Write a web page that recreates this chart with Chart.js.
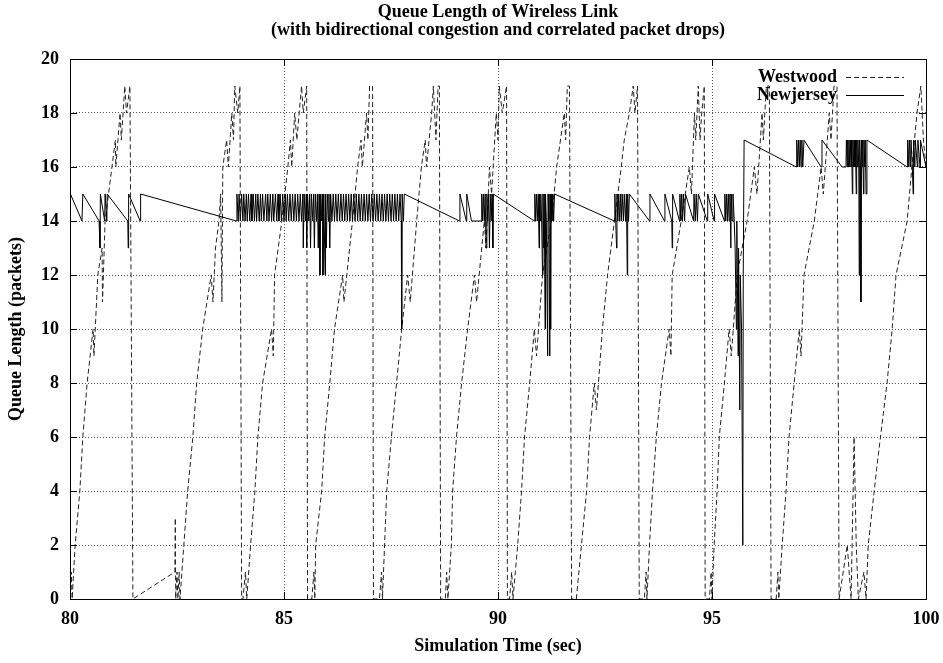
<!DOCTYPE html>
<html>
<head>
<meta charset="utf-8">
<script src="https://cdn.jsdelivr.net/npm/chart.js@4.4.0/dist/chart.umd.min.js"></script>
<style>
  body { margin: 0; background: #fff; }
  canvas { display: block; }
</style>
</head>
<body>
<canvas id="queue-chart" width="943" height="663"></canvas>
<script>

var titleLines = ['Queue Length of Wireless Link', '(with bidirectional congestion and correlated packet drops)'];
var xTitle = 'Simulation Time (sec)';
var yTitle = 'Queue Length (packets)';
var seriesNames = ['Westwood', 'Newjersey'];

// [time, queue length]
var westwood = [
  [80.00,0],[80.03,1],[80.05,0],[80.12,2],[80.23,4],[80.30,6],[80.40,8],[80.54,10],[80.56,9],[80.65,12],[80.75,13],[80.76,11],
  [80.82,14],[80.98,16],[81.06,17],[81.07,16],[81.17,18],[81.20,17],[81.28,19],[81.32,18],[81.40,19],[81.47,0],
  [82.45,1],[82.46,3],[82.47,0],[82.50,1],[82.52,0],[82.55,1],[82.57,0],
  [82.66,2],[82.75,4],[82.87,6],[82.96,8],[83.10,10],[83.30,12],[83.34,11],[83.40,13],[83.48,14],[83.52,15],[83.55,11],
  [83.57,16],[83.66,17],[83.70,16],[83.78,18],[83.82,17],[83.85,19],[83.92,18],[83.97,19],[84.01,0],
  [84.04,0],[84.10,1],[84.13,0],[84.22,2],[84.32,4],[84.39,6],[84.50,8],[84.71,10],[84.75,9],[84.78,12],[84.95,14],
  [85.09,16],[85.15,17],[85.18,16],[85.25,18],[85.30,17],[85.41,19],[85.45,18],[85.53,19],[85.55,0],
  [85.65,0],[85.70,1],[85.72,0],[85.74,2],[85.88,4],[85.95,6],[86.07,8],[86.18,10],[86.37,12],[86.40,11],[86.60,14],
  [86.72,16],[86.80,17],[86.83,16],[86.93,18],[86.96,17],[87.00,19],[87.07,19],[87.09,0],
  [87.23,0],[87.28,1],[87.30,0],[87.35,2],[87.40,4],[87.51,6],[87.63,8],[87.75,10],[87.89,12],[87.95,11],[88.10,14],
  [88.21,16],[88.30,17],[88.33,16],[88.45,18],[88.49,19],[88.55,17],[88.60,19],[88.63,19],[88.66,0],
  [88.77,0],[88.80,1],[88.83,0],[88.91,2],[88.94,4],[89.03,6],[89.15,8],[89.29,10],[89.45,12],[89.50,11],[89.68,14],
  [89.72,13],[89.80,16],[89.85,15],[89.96,18],[90.00,17],[90.03,19],[90.10,18],[90.20,19],[90.22,0],
  [90.27,0],[90.32,1],[90.35,0],[90.46,2],[90.55,4],[90.62,6],[90.74,8],[90.85,10],[90.90,9],[91.04,12],[91.25,14],
  [91.37,16],[91.55,18],[91.58,17],[91.62,19],[91.67,19],[91.72,0],
  [91.83,0],[91.95,2],[92.07,4],[92.14,6],[92.25,8],[92.30,7],[92.44,10],[92.56,12],[92.72,14],[92.88,16],[92.95,17],
  [93.07,18],[93.16,19],[93.20,18],[93.26,19],[93.30,0],
  [93.42,0],[93.46,1],[93.48,0],[93.54,2],[93.61,4],[93.70,6],[93.82,8],[94.00,10],[94.04,9],[94.07,12],[94.28,14],
  [94.47,16],[94.52,15],[94.59,18],[94.62,17],[94.65,18],[94.68,19],[94.72,17],[94.76,18],[94.82,19],[94.84,0],
  [94.94,0],[94.98,1],[95.00,0],[95.05,2],[95.12,4],[95.17,6],[95.29,8],[95.40,10],[95.45,9],[95.59,12],[95.82,14],
  [95.99,16],[96.05,15],[96.17,18],[96.20,17],[96.27,19],[96.34,19],[96.38,0],
  [96.50,0],[96.54,1],[96.56,0],[96.64,2],[96.73,4],[96.80,6],[96.92,8],[97.04,10],[97.08,9],[97.15,12],[97.39,14],
  [97.55,16],[97.60,15],[97.74,18],[97.78,17],[97.85,19],[97.92,19],[97.97,0],
  [98.16,2],[98.25,0],[98.32,6],[98.37,2],[98.42,0],[98.55,1],[98.60,0],
  [98.65,2],[98.86,5],[99.09,8],[99.21,10],[99.30,12],[99.56,14],[99.67,16],[99.79,18],[99.88,19],[99.94,17],[100.00,16]
];

var newjersey = [
  [80.00,14],[80.01,15],[80.28,14],[80.30,15],[80.68,14],[80.70,13],[80.71,15],[80.81,14],[80.82,15],[80.86,14],[80.87,15],
  [81.35,14],[81.36,13],[81.37,15],[81.64,14],[81.65,15],
  [83.89,14],[83.90,15],[83.93,14],[83.95,15],[83.98,14],[84.01,15],[84.04,14],[84.06,15],[84.09,14],[84.12,15],[84.14,14],
  [84.17,15],[84.20,14],[84.23,15],[84.25,14],[84.28,15],[84.31,14],[84.34,15],[84.36,14],[84.39,15],[84.42,14],[84.45,15],
  [84.47,14],[84.50,15],[84.53,14],[84.57,15],[84.60,14],[84.62,15],[84.65,14],[84.68,15],[84.71,14],[84.74,15],[84.76,14],
  [84.80,15],[84.83,14],[84.86,15],[84.88,14],[84.91,15],[84.94,14],[84.97,15],[85.00,14],[85.03,15],[85.05,14],[85.08,15],
  [85.11,14],[85.14,15],[85.17,14],[85.20,15],[85.23,14],[85.26,15],[85.29,14],[85.32,15],[85.35,14],[85.38,15],[85.41,14],
  [85.44,15],[85.45,13],[85.47,15],[85.50,14],[85.52,15],[85.53,13],[85.55,15],[85.58,14],[85.60,15],[85.62,13],[85.64,15],
  [85.67,14],[85.69,15],[85.71,13],[85.73,15],[85.76,14],[85.78,15],[85.80,13],[85.82,15],[85.84,12],[85.86,15],[85.88,14],
  [85.90,15],[85.91,12],[85.93,15],[85.96,12],[85.97,15],[85.99,13],[86.01,15],[86.04,14],[86.05,15],[86.07,13],[86.09,15],
  [86.12,14],[86.15,15],[86.18,14],[86.21,15],[86.24,14],[86.27,15],[86.30,14],[86.33,15],[86.36,14],[86.39,15],[86.42,14],
  [86.45,15],[86.48,14],[86.51,15],[86.54,14],[86.57,15],[86.60,14],[86.63,15],[86.66,14],[86.69,15],[86.72,14],[86.75,15],
  [86.78,14],[86.81,15],[86.84,14],[86.87,15],[86.90,14],[86.93,15],[86.96,14],[86.99,15],[87.02,14],[87.05,15],[87.08,14],
  [87.11,15],[87.14,14],[87.17,15],[87.20,14],[87.23,15],[87.26,14],[87.29,15],[87.32,14],[87.35,15],[87.38,14],[87.41,15],
  [87.44,14],[87.47,15],[87.50,14],[87.53,15],[87.56,14],[87.59,15],[87.62,14],[87.65,15],[87.68,14],[87.71,15],[87.74,14],
  [87.75,10],[87.76,15],[87.79,14],[87.81,15],
  [89.10,14],[89.11,15],[89.26,14],[89.27,15],[89.38,14],[89.61,14],
  [89.62,15],[89.64,14],[89.66,15],[89.68,14],[89.70,15],[89.72,13],[89.74,15],[89.76,14],[89.78,15],[89.80,13],[89.82,15],
  [89.84,14],[89.86,15],[89.88,13],[89.89,15],
  [90.85,14],[90.86,15],[90.88,14],[90.90,15],[90.92,14],[90.94,15],[90.96,13],[90.97,15],[90.99,14],[91.00,15],[91.02,14],
  [91.04,12],[91.05,15],[91.07,13],[91.08,15],[91.10,10],[91.11,15],[91.13,14],[91.16,9],[91.17,15],[91.19,14],[91.21,9],
  [91.22,15],[91.23,10],[91.24,15],[91.26,14],[91.28,15],[91.30,14],[91.32,15],
  [92.72,14],[92.73,15],[92.77,13],[92.78,15],[92.80,14],[92.82,15],[92.84,14],[92.86,15],[92.88,14],[92.90,15],[92.93,14],
  [92.95,15],[92.98,14],[93.00,15],[93.02,12],[93.03,15],[93.05,14],[93.07,15],
  [93.54,14],[93.55,15],[93.89,14],[93.90,15],[94.06,14],[94.07,13],[94.08,15],[94.24,14],[94.25,15],[94.27,14],[94.29,15],
  [94.31,14],[94.33,15],[94.36,14],[94.38,15],[94.57,14],[94.58,15],[94.61,14],[94.63,15],[94.66,14],[94.68,15],[94.89,14],
  [94.90,15],[95.05,14],[95.06,15],[95.29,14],[95.30,15],[95.32,14],[95.34,15],[95.36,14],[95.38,15],[95.40,14],[95.42,15],
  [95.44,13],[95.45,15],[95.47,14],[95.49,15],[95.52,14],[95.54,13],[95.57,10],[95.58,14],[95.61,9],[95.62,13],[95.65,7],
  [95.66,12],[95.69,10],[95.72,2],[95.73,12],[95.75,17],
  [96.97,16],[96.98,17],[97.00,16],[97.02,17],[97.04,16],[97.06,17],[97.08,16],[97.10,17],[97.12,16],[97.15,17],
  [97.55,16],[97.57,17],[98.04,16],[98.13,16],
  [98.14,17],[98.16,16],[98.17,17],[98.19,16],[98.20,17],[98.22,16],[98.23,17],[98.25,16],[98.26,17],[98.28,15],[98.29,17],
  [98.31,16],[98.32,17],[98.34,16],[98.35,17],[98.37,15],[98.38,17],[98.40,16],[98.41,17],[98.43,16],[98.44,12],[98.45,17],
  [98.47,16],[98.48,11],[98.49,17],[98.51,16],[98.52,17],[98.54,15],[98.55,17],[98.57,16],[98.58,17],[98.60,15],[98.62,17],
  [99.56,16],[99.57,17],[99.60,16],[99.61,17],[99.64,16],[99.65,17],[99.68,16],[99.70,15],[99.71,17],[99.74,16],[99.75,17],
  [99.80,16],[99.81,17],[99.86,16],[99.87,17],[100.00,16]
];

var serif = '"Liberation Serif", "Times New Roman", serif';

// gnuplot style frame, inward ticks, title and key
const gnuplotDecor = {
  id: 'gnuplotDecor',
  afterDraw(chart) {
    const ctx = chart.ctx;
    const a = chart.chartArea;
    const xs = chart.scales.x, ys = chart.scales.y;
    ctx.save();
    ctx.setLineDash([]);
    ctx.strokeStyle = '#000';
    ctx.lineWidth = 1;
    ctx.strokeRect(a.left + 0.5, a.top + 0.5, a.right - a.left, a.bottom - a.top);
    ctx.beginPath();
    xs.ticks.forEach(t => {
      const px = Math.round(xs.getPixelForValue(t.value)) + 0.5;
      ctx.moveTo(px, a.bottom); ctx.lineTo(px, a.bottom - 7);
      ctx.moveTo(px, a.top); ctx.lineTo(px, a.top + 7);
    });
    ys.ticks.forEach(t => {
      const py = Math.round(ys.getPixelForValue(t.value)) + 0.5;
      ctx.moveTo(a.left, py); ctx.lineTo(a.left + 7, py);
      ctx.moveTo(a.right, py); ctx.lineTo(a.right - 7, py);
    });
    ctx.stroke();

    ctx.fillStyle = '#000';
    ctx.font = 'bold 18px ' + serif;
    ctx.textAlign = 'center';
    ctx.textBaseline = 'middle';
    const cx = (a.left + a.right) / 2;
    ctx.fillText(titleLines[0], cx, 12);
    ctx.fillText(titleLines[1], cx, 30);

    // key
    ctx.textAlign = 'right';
    chart.data.datasets.forEach((ds, i) => {
      const ky = 77 + i * 18;
      ctx.fillText(ds.label, 837, ky);
      ctx.beginPath();
      ctx.strokeStyle = ds.borderColor;
      ctx.lineWidth = ds.borderWidth;
      ctx.setLineDash(ds.borderDash || []);
      ctx.moveTo(846, ky + 0.5);
      ctx.lineTo(904, ky + 0.5);
      ctx.stroke();
    });
    ctx.restore();
  }
};

new Chart(document.getElementById('queue-chart'), {
  type: 'scatter',
  data: {
    datasets: [{
      label: seriesNames[0],
      data: westwood,
      showLine: true,
      borderColor: '#222',
      borderWidth: 1,
      borderDash: [5, 3],
      pointRadius: 0,
      order: 1
    }, {
      label: seriesNames[1],
      data: newjersey,
      showLine: true,
      borderColor: '#000',
      borderWidth: 1,
      pointRadius: 0,
      order: 0
    }]
  },
  options: {
    responsive: false,
    animation: false,
    devicePixelRatio: 1,
    layout: { padding: { top: 59, right: 17, bottom: 0, left: 0 } },
    plugins: {
      legend: { display: false },
      tooltip: { enabled: false }
    },
    scales: {
      x: {
        type: 'linear',
        min: 80, max: 100,
        afterFit: s => { s.height = 64; s.paddingLeft = 0; s.paddingRight = 0; },
        ticks: { stepSize: 5, color: '#000', padding: 10, font: { family: serif, size: 18, weight: 'bold' } },
        grid: { color: '#555', drawTicks: false },
        border: { display: false, dash: [1, 2] },
        title: { display: true, text: xTitle, color: '#000', padding: { top: 0, bottom: 6 }, font: { family: serif, size: 18, weight: 'bold' } }
      },
      y: {
        min: 0, max: 20,
        afterFit: s => { s.width = 70; s.paddingTop = 0; s.paddingBottom = 0; },
        ticks: { stepSize: 2, color: '#000', padding: 11, font: { family: serif, size: 18, weight: 'bold' } },
        grid: { color: '#555', drawTicks: false },
        border: { display: false, dash: [1, 2] },
        title: { display: true, text: yTitle, color: '#000', padding: { top: 6, bottom: 0 }, font: { family: serif, size: 18, weight: 'bold' } }
      }
    }
  },
  plugins: [gnuplotDecor]
});
</script>
</body>
</html>
